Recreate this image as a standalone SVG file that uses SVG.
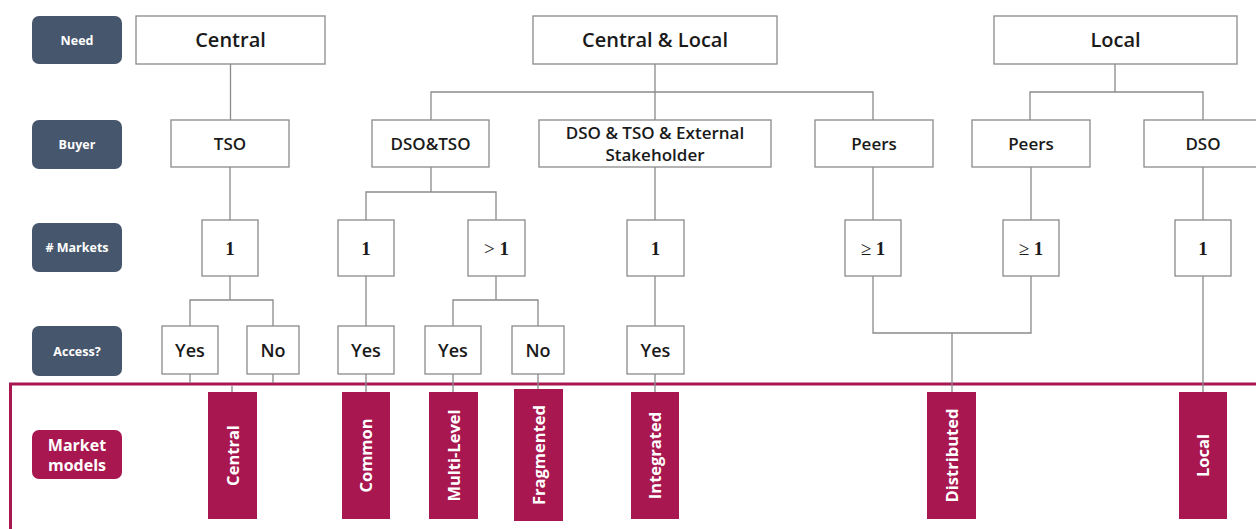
<svg xmlns="http://www.w3.org/2000/svg" width="1256" height="529" viewBox="0 0 1256 529">
  <style>
    .row { fill: #46566c; }
    .row-t { fill: #ffffff; font-family: "Open Sans", "Noto Sans", sans-serif; font-weight: 700; font-size: 12.5px; text-anchor: middle; }
    .mm { fill: #a8174f; }
    .mm-t { fill: #ffffff; font-family: "Open Sans", "Noto Sans", sans-serif; font-weight: 700; font-size: 16px; text-anchor: middle; }
    .box { fill: #ffffff; stroke: #8a8a8a; stroke-width: 1.3; }
    .need-t { fill: #1a1a1a; font-family: "Open Sans", "Noto Sans", sans-serif; font-weight: 600; font-size: 20px; text-anchor: middle; }
    .buy-t { fill: #1a1a1a; font-family: "Open Sans", "Noto Sans", sans-serif; font-weight: 600; font-size: 17px; text-anchor: middle; }
    .acc-t { fill: #1a1a1a; font-family: "Open Sans", "Noto Sans", sans-serif; font-weight: 600; font-size: 18px; text-anchor: middle; }
    .num-t { fill: #1a1a1a; font-family: "Liberation Serif", "DejaVu Serif", serif; font-size: 19px; text-anchor: middle; }
    .num-t .b { font-weight: 700; }
    .model { fill: #a8174f; }
    .model-t { fill: #ffffff; font-family: "Open Sans", "Noto Sans", sans-serif; font-weight: 700; font-size: 16.5px; text-anchor: middle; }
    .link { fill: none; stroke: #8a8a8a; stroke-width: 1.3; }
    .frame { fill: none; stroke: #a8174f; stroke-width: 3; }
  </style>

  <!-- market model frame -->
  <rect class="frame" x="10.5" y="384" width="1260" height="200"/>

  <!-- connectors -->
  <g id="connectors">
    <!-- need -> buyer -->
    <path class="link" d="M230.5 64 V120"/>
    <path class="link" d="M655 64 V120 M431 120 V92 H873 V120"/>
    <path class="link" d="M1115 64 V92 M1030 120 V92 H1203 V120"/>
    <!-- buyer -> markets -->
    <path class="link" d="M230 167 V220"/>
    <path class="link" d="M431 167 V192 M366 220 V192 H496 V220"/>
    <path class="link" d="M655 167 V220"/>
    <path class="link" d="M873 167 V220"/>
    <path class="link" d="M1031 167 V220"/>
    <path class="link" d="M1203 167 V220"/>
    <!-- markets -> access -->
    <path class="link" d="M230 276 V300 M190 326 V300 H273 V326"/>
    <path class="link" d="M366 276 V326"/>
    <path class="link" d="M496 276 V300 M453 326 V300 H538 V326"/>
    <path class="link" d="M655 276 V326"/>
    <path class="link" d="M873 276 V333 H1031 V276 M952 333 V392"/>
    <path class="link" d="M1203 276 V392"/>
    <!-- access -> models -->
    <path class="link" d="M190 374 V383 M273 374 V383 M232 386 V392"/>
    <path class="link" d="M366 374 V392"/>
    <path class="link" d="M453 374 V392"/>
    <path class="link" d="M538 374 V389"/>
    <path class="link" d="M655 374 V392"/>
  </g>

  <!-- row labels -->
  <g id="label-need"><rect class="row" x="32" y="16" width="90" height="48" rx="7"/><text class="row-t" x="77" y="44.5">Need</text></g>
  <g id="label-buyer"><rect class="row" x="32" y="120" width="90" height="49" rx="7"/><text class="row-t" x="77" y="149">Buyer</text></g>
  <g id="label-markets"><rect class="row" x="32" y="223" width="90" height="49" rx="7"/><text class="row-t" x="77" y="252"># Markets</text></g>
  <g id="label-access"><rect class="row" x="32" y="326" width="90" height="50" rx="7"/><text class="row-t" x="77" y="356">Access?</text></g>
  <g id="label-models"><rect class="mm" x="32" y="430" width="90" height="49" rx="7"/><text class="mm-t" x="77" y="451">Market</text><text class="mm-t" x="77" y="471">models</text></g>

  <!-- need -->
  <g id="need-central"><rect class="box" x="136" y="16" width="189" height="48"/><text class="need-t" x="230.5" y="47">Central</text></g>
  <g id="need-central-local"><rect class="box" x="533" y="16" width="244" height="48"/><text class="need-t" x="655" y="47">Central &amp; Local</text></g>
  <g id="need-local"><rect class="box" x="994" y="16" width="243" height="48"/><text class="need-t" x="1115.5" y="47">Local</text></g>

  <!-- buyer -->
  <g id="buyer-tso"><rect class="box" x="171" y="120" width="118" height="47"/><text class="buy-t" x="230" y="150">TSO</text></g>
  <g id="buyer-dso-tso"><rect class="box" x="372" y="120" width="117" height="47"/><text class="buy-t" x="430.5" y="150">DSO&amp;TSO</text></g>
  <g id="buyer-external"><rect class="box" x="539" y="120" width="232" height="47"/><text class="buy-t" x="655" y="139">DSO &amp; TSO &amp; External</text><text class="buy-t" x="655" y="161">Stakeholder</text></g>
  <g id="buyer-peers-1"><rect class="box" x="815" y="120" width="118" height="47"/><text class="buy-t" x="874" y="150">Peers</text></g>
  <g id="buyer-peers-2"><rect class="box" x="972" y="120" width="118" height="47"/><text class="buy-t" x="1031" y="150">Peers</text></g>
  <g id="buyer-dso"><rect class="box" x="1144" y="120" width="118" height="47"/><text class="buy-t" x="1203" y="150">DSO</text></g>

  <!-- number of markets -->
  <g id="mk-tso"><rect class="box" x="202" y="220" width="56" height="56"/><text class="num-t" x="230" y="254.5"><tspan class="b">1</tspan></text></g>
  <g id="mk-dso-tso-1"><rect class="box" x="338" y="220" width="56" height="56"/><text class="num-t" x="366" y="254.5"><tspan class="b">1</tspan></text></g>
  <g id="mk-dso-tso-n"><rect class="box" x="468" y="220" width="57" height="56"/><text class="num-t" x="496.5" y="254.5">&gt; <tspan class="b">1</tspan></text></g>
  <g id="mk-external"><rect class="box" x="627" y="220" width="57" height="56"/><text class="num-t" x="655.5" y="254.5"><tspan class="b">1</tspan></text></g>
  <g id="mk-peers-1"><rect class="box" x="845" y="220" width="56" height="56"/><text class="num-t" x="873" y="254.5">≥ <tspan class="b">1</tspan></text></g>
  <g id="mk-peers-2"><rect class="box" x="1003" y="220" width="56" height="56"/><text class="num-t" x="1031" y="254.5">≥ <tspan class="b">1</tspan></text></g>
  <g id="mk-dso"><rect class="box" x="1175" y="220" width="56" height="56"/><text class="num-t" x="1203" y="254.5"><tspan class="b">1</tspan></text></g>

  <!-- access -->
  <g id="acc-tso-yes"><rect class="box" x="162" y="326" width="56" height="48"/><text class="acc-t" x="190" y="357">Yes</text></g>
  <g id="acc-tso-no"><rect class="box" x="247" y="326" width="52" height="48"/><text class="acc-t" x="273" y="357">No</text></g>
  <g id="acc-common-yes"><rect class="box" x="338" y="326" width="56" height="48"/><text class="acc-t" x="366" y="357">Yes</text></g>
  <g id="acc-multi-yes"><rect class="box" x="425" y="326" width="56" height="48"/><text class="acc-t" x="453" y="357">Yes</text></g>
  <g id="acc-multi-no"><rect class="box" x="512" y="326" width="52" height="48"/><text class="acc-t" x="538" y="357">No</text></g>
  <g id="acc-external-yes"><rect class="box" x="627" y="326" width="57" height="48"/><text class="acc-t" x="655.5" y="357">Yes</text></g>

  <!-- market models -->
  <g id="model-central"><rect class="model" x="208" y="392" width="49" height="127"/><text class="model-t" transform="translate(238.5 455.5) rotate(-90)">Central</text></g>
  <g id="model-common"><rect class="model" x="342" y="392" width="48" height="127"/><text class="model-t" transform="translate(372 455.5) rotate(-90)">Common</text></g>
  <g id="model-multi-level"><rect class="model" x="429" y="392" width="49" height="127"/><text class="model-t" transform="translate(459.5 455.5) rotate(-90)">Multi-Level</text></g>
  <g id="model-fragmented"><rect class="model" x="514" y="389" width="49" height="132"/><text class="model-t" transform="translate(544.5 455) rotate(-90)">Fragmented</text></g>
  <g id="model-integrated"><rect class="model" x="631" y="392" width="48" height="127"/><text class="model-t" transform="translate(661 455.5) rotate(-90)">Integrated</text></g>
  <g id="model-distributed"><rect class="model" x="927" y="392" width="49" height="127"/><text class="model-t" transform="translate(957.5 455.5) rotate(-90)">Distributed</text></g>
  <g id="model-local"><rect class="model" x="1179" y="392" width="48" height="127"/><text class="model-t" transform="translate(1209 455.5) rotate(-90)">Local</text></g>
</svg>
